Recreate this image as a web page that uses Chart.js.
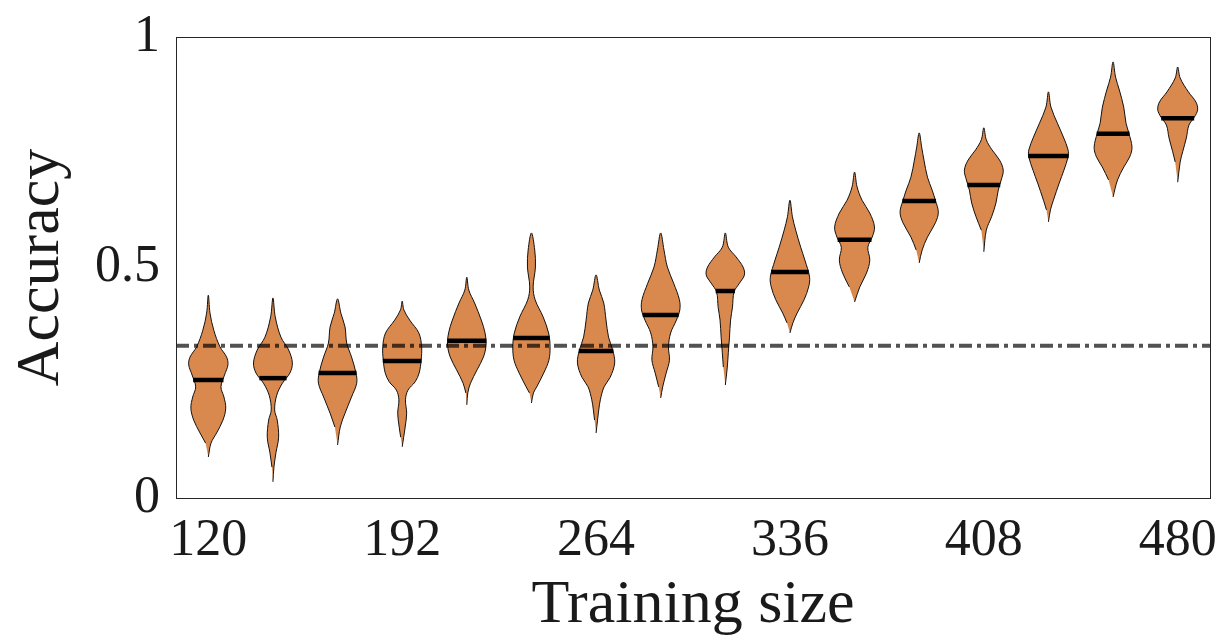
<!DOCTYPE html>
<html><head><meta charset="utf-8">
<script src="https://cdn.jsdelivr.net/npm/chart.js@4.4.1/dist/chart.umd.min.js"></script>
<style>html,body{margin:0;padding:0;background:#fff}#wrap{width:1225px;height:644px;position:relative}
#fontprobe{position:absolute;left:-9999px;top:0;font-family:'Liberation Serif','DejaVu Serif',serif;font-size:52px}</style>
</head><body><div id="fontprobe">Training size Accuracy 0.5 120</div><div id="wrap"><canvas id="c"></canvas></div>
<script>
// ---- data ----
const trainingSizes = [120,144,168,192,216,240,264,288,312,336,360,384,408,432,456,480];
const xTickLabels = [120,192,264,336,408,480];
const yTickValues = [0,0.5,1];
const chanceLevel = 0.33;
const medianAccuracy = [0.256,0.260,0.271,0.297,0.341,0.347,0.319,0.397,0.449,0.490,0.560,0.644,0.679,0.742,0.790,0.824];

// violin profiles: [accuracy, relative density] from top to bottom
const violin120 = [[0.440,0],[0.401,0.085],[0.364,0.275],[0.328,0.585],[0.306,0.915],[0.289,0.985],[0.267,0.815],[0.241,0.635],[0.219,0.785],[0.195,0.875],[0.169,0.735],[0.141,0.415],[0.119,0.135],[0.089,0]];
const violin144 = [[0.434,0],[0.393,0.115],[0.349,0.40],[0.321,0.79],[0.293,0.975],[0.271,0.85],[0.249,0.475],[0.223,0.19],[0.191,0.085],[0.169,0.215],[0.132,0.285],[0.098,0.15],[0.067,0.05],[0.035,0]];
const violin168 = [[0.432,0],[0.401,0.165],[0.371,0.375],[0.336,0.46],[0.306,0.70],[0.271,0.925],[0.249,0.96],[0.219,0.70],[0.184,0.375],[0.154,0.135],[0.115,0]];
const violin192 = [[0.427,0],[0.408,0.085],[0.386,0.375],[0.358,0.835],[0.328,0.975],[0.299,0.95],[0.271,0.85],[0.252,0.65],[0.234,0.29],[0.213,0.165],[0.184,0.225],[0.154,0.15],[0.132,0.075],[0.111,0]];
const violin216 = [[0.479,0],[0.451,0.10],[0.423,0.39],[0.386,0.725],[0.358,0.915],[0.332,0.965],[0.306,0.835],[0.278,0.515],[0.249,0.185],[0.228,0.05],[0.202,0]];
const violin240 = [[0.575,0],[0.538,0.165],[0.501,0.20],[0.458,0.085],[0.430,0.185],[0.393,0.585],[0.358,0.86],[0.328,0.935],[0.299,0.875],[0.271,0.615],[0.241,0.265],[0.228,0.10],[0.206,0]];
const violin264 = [[0.484,0],[0.451,0.165],[0.423,0.385],[0.386,0.50],[0.349,0.625],[0.321,0.835],[0.293,0.935],[0.262,0.71],[0.241,0.40],[0.213,0.215],[0.191,0.135],[0.169,0.075],[0.141,0]];
const violin288 = [[0.575,0],[0.538,0.165],[0.501,0.335],[0.466,0.65],[0.430,0.94],[0.408,0.96],[0.386,0.79],[0.358,0.50],[0.328,0.39],[0.299,0.44],[0.271,0.275],[0.241,0.10],[0.217,0]];
const violin312 = [[0.575,0],[0.544,0.15],[0.523,0.54],[0.501,0.89],[0.484,0.96],[0.466,0.71],[0.447,0.44],[0.414,0.36],[0.386,0.265],[0.349,0.21],[0.315,0.15],[0.284,0.10],[0.245,0]];
const violin336 = [[0.646,0],[0.610,0.125],[0.581,0.29],[0.544,0.54],[0.516,0.75],[0.479,0.985],[0.458,0.94],[0.430,0.71],[0.401,0.36],[0.380,0.15],[0.358,0]];
const violin360 = [[0.707,0],[0.675,0.125],[0.646,0.375],[0.618,0.765],[0.588,1.0],[0.566,0.885],[0.544,0.665],[0.516,0.765],[0.488,0.60],[0.458,0.265],[0.425,0]];
const violin384 = [[0.792,0],[0.761,0.125],[0.733,0.24],[0.696,0.415],[0.668,0.65],[0.646,0.81],[0.620,0.96],[0.597,0.815],[0.566,0.415],[0.538,0.15],[0.510,0]];
const violin408 = [[0.803,0],[0.777,0.125],[0.755,0.415],[0.733,0.79],[0.711,0.975],[0.690,0.875],[0.668,0.725],[0.640,0.61],[0.610,0.39],[0.581,0.125],[0.534,0]];
const violin432 = [[0.881,0],[0.848,0.125],[0.813,0.45],[0.783,0.75],[0.755,0.985],[0.740,0.985],[0.711,0.775],[0.683,0.54],[0.646,0.25],[0.625,0.10],[0.599,0]];
const violin456 = [[0.946,0],[0.913,0.125],[0.885,0.315],[0.848,0.535],[0.813,0.65],[0.792,0.79],[0.761,0.95],[0.740,0.835],[0.718,0.54],[0.690,0.225],[0.653,0]];
const violin480 = [[0.935,0],[0.911,0.125],[0.881,0.535],[0.859,0.915],[0.842,1.0],[0.826,0.835],[0.809,0.565],[0.781,0.435],[0.751,0.25],[0.729,0.125],[0.685,0]];
const violinProfiles = [violin120,violin144,violin168,violin192,violin216,violin240,violin264,violin288,violin312,violin336,violin360,violin384,violin408,violin432,violin456,violin480];

// ---- styling ----
const X_MIN = 108, X_MAX = 492;
const DENSITY_SCALE = 7.4;           // x-units for a relative density of 1
const VIOLIN_COLOR = 'rgb(217,137,77)';
const TEXT_COLOR = '#1a1a1a';
const FONT_FAMILY = "'Liberation Serif', 'DejaVu Serif', serif";

function densityAt(profile, acc) {
  for (let i = 0; i < profile.length - 1; i++) {
    const [a0, d0] = profile[i], [a1, d1] = profile[i + 1];
    if (acc <= a0 && acc >= a1) return d0 + (d1 - d0) * (a0 - acc) / (a0 - a1);
  }
  return 0;
}

const datasets = [];
datasets.push({
  data: [{x: X_MIN, y: chanceLevel}, {x: X_MAX, y: chanceLevel}],
  borderColor: 'rgba(0,0,0,0.68)', borderWidth: 4, borderDash: [13, 5, 4, 5],
  pointRadius: 0, fill: false, tension: 0, order: 0
});
trainingSizes.forEach((c, i) => {
  const hw = densityAt(violinProfiles[i], medianAccuracy[i]) * DENSITY_SCALE * 1.03;
  datasets.push({
    data: [{x: c - hw, y: medianAccuracy[i]}, {x: c + hw, y: medianAccuracy[i]}],
    borderColor: '#000', borderWidth: 4.5, pointRadius: 0, fill: false, tension: 0,
    borderCapStyle: 'butt', order: 1
  });
});
trainingSizes.forEach((c, i) => {
  const prof = violinProfiles[i];
  const right = prof.slice().reverse().map(([a, d]) => ({x: c + d * DENSITY_SCALE, y: a}));
  const left = prof.slice(1, -1).map(([a, d]) => ({x: c - d * DENSITY_SCALE, y: a}));
  datasets.push({
    data: right.concat(left),
    borderColor: '#111', borderWidth: 1, backgroundColor: VIOLIN_COLOR,
    fill: 'shape', tension: 0.35, pointRadius: 0, order: 2
  });
});

const framePlugin = {
  id: 'frame',
  afterDraw(chart) {
    const {ctx, chartArea: a} = chart;
    ctx.save();
    ctx.strokeStyle = '#262626';
    ctx.lineWidth = 1;
    ctx.strokeRect(Math.round(a.left) + 0.5, Math.round(a.top) + 0.5, Math.round(a.right - a.left), Math.round(a.bottom - a.top));
    ctx.restore();
  }
};

const chart = new Chart(document.getElementById('c'), {
  type: 'line',
  data: {datasets},
  plugins: [framePlugin],
  options: {
    responsive: true, maintainAspectRatio: false, animation: false,
    layout: {padding: {top: 37, right: 15, left: 0, bottom: 0}},
    plugins: {legend: {display: false}, tooltip: {enabled: false}},
    scales: {
      x: {
        type: 'linear', min: X_MIN, max: X_MAX,
        afterBuildTicks: s => { s.ticks = xTickLabels.map(v => ({value: v})); },
        afterFit: s => { s.height = 146; s.paddingLeft = 0; s.paddingRight = 0; },
        grid: {display: false, drawTicks: false},
        border: {display: false},
        ticks: {font: {family: FONT_FAMILY, size: 52}, color: TEXT_COLOR, padding: 12, maxRotation: 0, autoSkip: false,
                callback: v => String(v)},
        title: {display: true, text: 'Training size', font: {family: FONT_FAMILY, size: 62}, color: TEXT_COLOR,
                padding: {top: 0, bottom: 1}}
      },
      y: {
        min: 0, max: 1,
        afterBuildTicks: s => { s.ticks = yTickValues.map(v => ({value: v})); },
        afterFit: s => { s.width = 176; s.paddingTop = 0; s.paddingBottom = 0; },
        grid: {display: false, drawTicks: false},
        border: {display: false},
        ticks: {font: {family: FONT_FAMILY, size: 52}, color: TEXT_COLOR, padding: 16,
                callback: v => String(v)},
        title: {display: true, text: 'Accuracy', font: {family: FONT_FAMILY, size: 62}, color: TEXT_COLOR,
                padding: {top: 5, bottom: 0}}
      }
    }
  }
});
if (document.fonts) {
  Promise.all([document.fonts.load("52px 'Liberation Serif'"), document.fonts.load("52px 'DejaVu Serif'")])
    .then(() => chart.update()).catch(() => {});
  document.fonts.ready.then(() => chart.update());
}
</script></body></html>
